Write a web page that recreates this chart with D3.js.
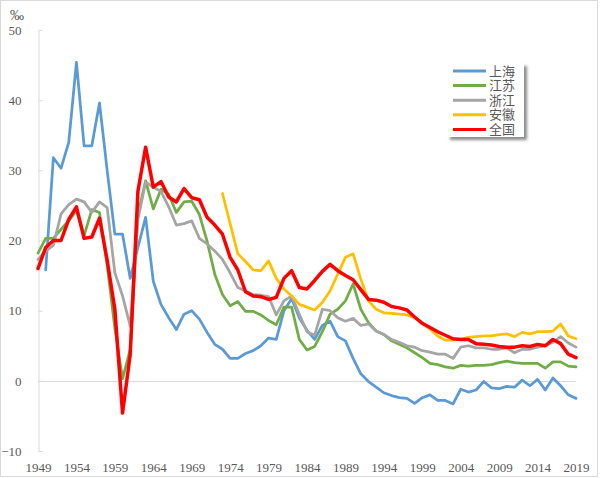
<!DOCTYPE html>
<html>
<head>
<meta charset="utf-8">
<script src="https://cdn.jsdelivr.net/npm/d3@7"></script>
<style>
  html, body { margin: 0; padding: 0; background: #fff; }
  svg { display: block; }
  .num { font-family: "Liberation Serif", "DejaVu Serif", serif; }
</style>
</head>
<body>
<svg id="chart" width="600" height="478"></svg>
<script>
const startYear = 1949;
const endYear = 2019;
const years = d3.range(startYear, endYear + 1);
const xTickYears = [1949, 1954, 1959, 1964, 1969, 1974, 1979, 1984, 1989, 1994, 1999, 2004, 2009, 2014, 2019];
const yTicks = [-10, 0, 10, 20, 30, 40, 50];
const unitLabel = "‰";
const seriesNames = ["上海", "江苏", "浙江", "安徽", "全国"];

const shanghai = [null, 15.8, 31.8, 30.3, 34.0, 45.4, 33.5, 33.5, 39.6, 30.0,
  20.9, 20.9, 14.6, 19.0, 23.3, 14.2, 10.9, 9.0, 7.3, 9.5,
  10.0, 8.8, 6.9, 5.2, 4.5, 3.2, 3.2, 3.9, 4.3, 5.0,
  6.1, 5.9, 10.0, 11.7, 9.0, 7.2, 5.9, 7.9, 8.5, 6.3,
  5.7, 3.2, 1.0, -0.1, -0.9, -1.7, -2.1, -2.4, -2.5, -3.2,
  -2.4, -2.0, -2.8, -2.8, -3.3, -1.2, -1.6, -1.3, -0.1, -1.0,
  -1.1, -0.8, -0.9, 0.1, -0.7, 0.2, -1.3, 0.4, -0.7, -2.0, -2.5];

const jiangsu = [18.2, 20.3, 20.3, 21.6, 22.8, 24.3, 20.7, 24.4, 24.0, 16.5,
  7.5, 0.3, 4.5, 23.7, 28.5, 24.5, 27.3, 26.6, 24.0, 25.5,
  25.6, 23.7, 19.9, 15.2, 12.3, 10.7, 11.3, 9.9, 9.9, 9.4,
  8.6, 8.0, 10.5, 10.5, 5.9, 4.4, 4.9, 7.0, 9.5, 10.2,
  11.4, 13.8, 10.2, 8.3, 7.1, 6.6, 5.7, 5.2, 4.7, 4.0,
  3.3, 2.5, 2.3, 2.0, 1.8, 2.2, 2.1, 2.2, 2.2, 2.3,
  2.6, 2.8, 2.6, 2.5, 2.5, 2.5, 1.8, 2.7, 2.7, 2.1, 2.0];

const zhejiang = [17.3, 18.5, 19.3, 23.8, 25.1, 25.9, 25.5, 24.0, 25.5, 24.7,
  15.4, 12.1, 7.8, 23.0, 28.3, 27.6, 27.0, 24.8, 22.2, 22.4,
  22.8, 20.3, 19.5, 18.5, 17.3, 15.4, 13.3, 12.8, 12.3, 12.2,
  12.0, 9.4, 11.4, 12.1, 9.5, 7.0, 6.5, 10.2, 10.0, 9.0,
  8.5, 8.9, 7.9, 8.1, 7.1, 6.6, 5.9, 5.5, 5.0, 4.8,
  4.3, 4.1, 3.8, 3.8, 3.2, 4.8, 5.0, 4.7, 4.7, 4.5,
  4.5, 4.7, 4.0, 4.5, 4.5, 4.8, 5.0, 5.5, 6.3, 5.4, 4.8];

const anhui = [null, null, null, null, null, null, null, null, null, null,
  null, null, null, null, null, null, null, null, null, null,
  null, null, null, null, 26.7, 22.4, 18.1, 17.0, 15.8, 15.7,
  17.1, 14.6, 13.1, 12.1, 10.9, 10.5, 10.1, 11.2, 12.8, 15.2,
  17.6, 18.1, 14.5, 11.4, 10.2, 9.7, 9.6, 9.5, 9.4, 9.0,
  8.2, 7.4, 6.4, 5.8, 5.8, 5.9, 6.2, 6.3, 6.4, 6.4,
  6.6, 6.7, 6.3, 6.9, 6.7, 7.0, 7.0, 7.1, 8.1, 6.4, 6.0];

const national = [16.0, 19.0, 20.0, 20.0, 23.0, 24.8, 20.3, 20.5, 23.2, 17.2,
  10.2, -4.6, 3.8, 27.0, 33.3, 27.6, 28.4, 26.2, 25.5, 27.4,
  26.1, 25.8, 23.3, 22.2, 20.9, 17.6, 15.8, 12.7, 12.1, 12.0,
  11.6, 11.9, 14.6, 15.7, 13.3, 13.1, 14.3, 15.6, 16.6, 15.7,
  15.0, 14.4, 13.0, 11.6, 11.5, 11.2, 10.6, 10.4, 10.1, 9.1,
  8.2, 7.6, 7.0, 6.5, 6.0, 5.9, 5.9, 5.3, 5.2, 5.1,
  4.9, 4.8, 4.8, 5.0, 4.9, 5.2, 5.0, 5.9, 5.3, 3.8, 3.3];

const seriesValues = [shanghai, jiangsu, zhejiang, anhui, national];
const seriesColors = ["#5B9BD5", "#70AD47", "#A5A5A5", "#FFC000", "#FF0000"];
const seriesWidths = [2.75, 2.75, 2.75, 2.75, 3.5];

const svg = d3.select("#chart");

// chart area border
svg.append("rect")
  .attr("x", 0.5).attr("y", 0.5)
  .attr("width", 597).attr("height", 476)
  .attr("fill", "#fff").attr("stroke", "#d9d9d9").attr("stroke-width", 1);

const x = d3.scaleLinear().domain([startYear, endYear]).range([38, 576]);
const y = d3.scaleLinear().domain([-10, 50]).range([451, 30]);

const textColor = "#595959";
const numFont = '"Liberation Serif", "DejaVu Serif", serif';

// zero line
svg.append("line")
  .attr("x1", x(startYear)).attr("x2", x(endYear))
  .attr("y1", Math.round(y(0)) + 0.5).attr("y2", Math.round(y(0)) + 0.5)
  .attr("stroke", "#d9d9d9").attr("stroke-width", 1);

// y axis
const yAxis = d3.axisLeft(y).tickValues(yTicks).tickSizeInner(-4).tickSizeOuter(0).tickPadding(17)
  .tickFormat(d3.format("d"));
const gy = svg.append("g")
  .attr("transform", `translate(${x(startYear) + 0.5},0)`)
  .call(yAxis)
  .attr("font-family", numFont)
  .attr("font-size", 13);
gy.select(".domain").attr("stroke", "#d9d9d9");
gy.selectAll(".tick line").attr("stroke", "#d9d9d9");
gy.selectAll(".tick text").attr("fill", textColor).attr("class", "num");

// x axis labels
const xAxis = d3.axisBottom(x).tickValues(xTickYears).tickSize(0).tickPadding(12)
  .tickFormat(d3.format("d"));
const gx = svg.append("g")
  .attr("transform", `translate(0,${y(-10)})`)
  .call(xAxis)
  .attr("font-family", numFont)
  .attr("font-size", 13);
gx.select(".domain").remove();
gx.selectAll(".tick text").attr("fill", textColor).attr("class", "num");

// unit label
svg.append("text")
  .attr("class", "num")
  .attr("x", 10).attr("y", 20)
  .attr("fill", textColor)
  .attr("font-family", numFont)
  .attr("font-size", 14)
  .text(unitLabel);

// lines
const line = d3.line()
  .defined(d => d.v !== null)
  .x(d => x(d.year))
  .y(d => y(d.v));

seriesValues.forEach((vals, i) => {
  const data = years.map((yr, j) => ({ year: yr, v: vals[j] }));
  svg.append("path")
    .datum(data)
    .attr("fill", "none")
    .attr("stroke", seriesColors[i])
    .attr("stroke-width", seriesWidths[i])
    .attr("stroke-linejoin", "round")
    .attr("stroke-linecap", "round")
    .attr("d", line);
});

// legend
const defs = svg.append("defs");
const f = defs.append("filter").attr("id", "shadow").attr("x", "-20%").attr("y", "-20%")
  .attr("width", "150%").attr("height", "150%");
f.append("feDropShadow").attr("dx", 3).attr("dy", 3).attr("stdDeviation", 1.5)
  .attr("flood-color", "#000").attr("flood-opacity", 0.45);

const lg = svg.append("g").attr("transform", "translate(447,63)");
lg.append("rect").attr("width", 77).attr("height", 74)
  .attr("fill", "#fff").attr("filter", "url(#shadow)");
const rowStep = 14.6;
seriesNames.forEach((name, i) => {
  const cy = 8 + i * rowStep;
  lg.append("line")
    .attr("x1", 6).attr("x2", 39).attr("y1", cy).attr("y2", cy)
    .attr("stroke", seriesColors[i]).attr("stroke-width", 3);
  lg.append("text")
    .attr("x", 42).attr("y", cy)
    .attr("dy", "0.36em")
    .attr("fill", textColor)
    .attr("font-family", "'Noto Sans CJK SC', sans-serif")
    .attr("font-size", 13)
    .text(name);
});
</script>
</body>
</html>
